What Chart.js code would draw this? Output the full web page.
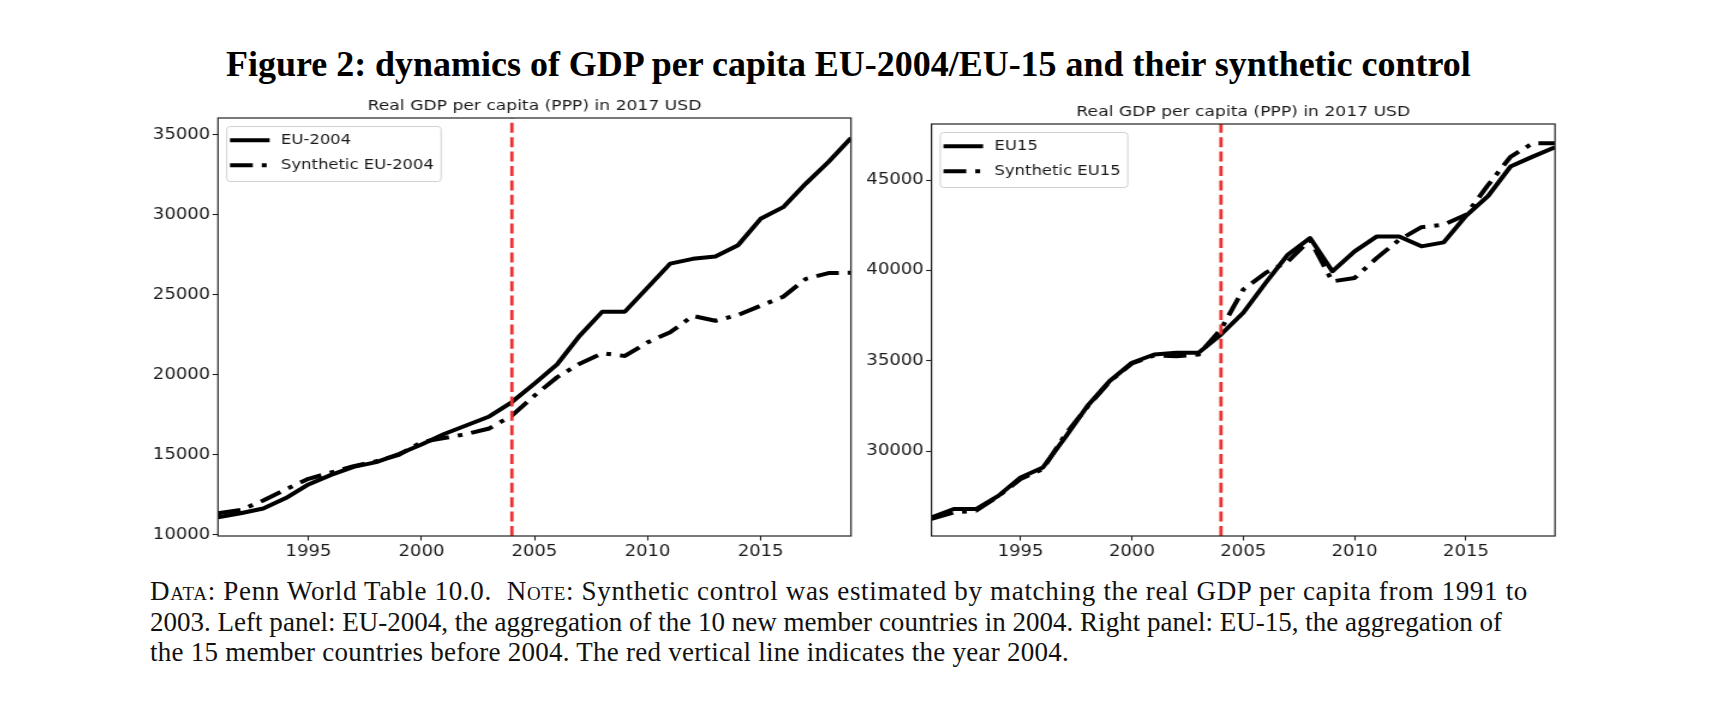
<!DOCTYPE html>
<html>
<head>
<meta charset="utf-8">
<script src="https://cdn.jsdelivr.net/npm/chart.js@4.4.1/dist/chart.umd.min.js"></script>
<style>
html, body { margin: 0; padding: 0; background: #fff; }
body { width: 1728px; height: 724px; position: relative; overflow: hidden; }
.panel { position: absolute; top: 90px; transform-origin: 0 0; transform: scaleX(1.2); }
.panel canvas { display: block; }
#figTitle { position: absolute; left: 226px; top: 47px; font-family: "Liberation Serif", serif; font-weight: bold;
  font-size: 35px; line-height: 35px; white-space: nowrap; color: #000; }
#caption { position: absolute; left: 150px; top: 577px; font-family: "Liberation Serif", serif; font-size: 24px;
  line-height: 30.4px; color: #111; }
#caption .ln { display: inline-block; white-space: nowrap; }
.sc { font-variant: small-caps; }
</style>
</head>
<body>
<div id="figTitle">Figure 2: dynamics of GDP per capita EU-2004/EU-15 and their synthetic control</div>
<div class="panel" style="left:130px"><canvas id="c1" width="617" height="470"></canvas></div>
<div class="panel" style="left:860px"><canvas id="c2" width="596" height="470"></canvas></div>
<div id="caption">
<span class="ln" data-w="1378"><span class="sc">Data</span>: Penn World Table 10.0.&nbsp; <span class="sc">Note</span>: Synthetic control was estimated by matching the real GDP per capita from 1991 to</span><br>
<span class="ln" data-w="1352">2003. Left panel: EU-2004, the aggregation of the 10 new member countries in 2004. Right panel: EU-15, the aggregation of</span><br>
<span class="ln" data-w="919">the 15 member countries before 2004. The red vertical line indicates the year 2004.</span>
</div>
<script>
// ---- data ----
const years = [1991, 1992, 1993, 1994, 1995, 1996, 1997, 1998, 1999, 2000, 2001, 2002, 2003, 2004,
  2005, 2006, 2007, 2008, 2009, 2010, 2011, 2012, 2013, 2014, 2015, 2016, 2017, 2018, 2019];

const eu2004 = [11100, 11350, 11650, 12300, 13150, 13750, 14250, 14550, 15050, 15650, 16300, 16850, 17400, 18300,
  19450, 20650, 22450, 23950, 23950, 25450, 26950, 27250, 27400, 28100, 29750, 30480, 31950, 33300, 34800];
const synthEu2004 = [11350, 11550, 12150, 12850, 13500, 13900, 14300, 14600, 15000, 15800, 16050, 16300, 16650, 17450,
  18700, 19850, 20700, 21350, 21180, 22030, 22660, 23680, 23380, 23740, 24320, 24880, 26000, 26360, 26380];

const eu15 = [26330, 26790, 26790, 27520, 28540, 29090, 30750, 32500, 33880, 34890, 35350, 35450, 35450, 36460,
  37660, 39310, 40880, 41800, 39960, 41060, 41890, 41890, 41340, 41560, 43030, 44140, 45760, 46310, 46830];
const synthEu15 = [26250, 26600, 26700, 27500, 28450, 29000, 30900, 32450, 33850, 34850, 35300, 35250, 35350, 36750,
  38950, 39870, 40500, 41700, 39400, 39590, 40700, 41700, 42400, 42540, 43090, 44750, 46300, 47050, 47050];

const treatmentYear = 2004;
const xTicks = [1995, 2000, 2005, 2010, 2015];
const leftYTicks = [10000, 15000, 20000, 25000, 30000, 35000];
const rightYTicks = [30000, 35000, 40000, 45000];
const leftYRange = [9930, 36050];
const rightYRange = [25295, 48118];
const xRange = [1991, 2019];

const panelTitle = 'Real GDP per capita (PPP) in 2017 USD';
const leftLabels = ['EU-2004', 'Synthetic EU-2004'];
const rightLabels = ['EU15', 'Synthetic EU15'];

// ---- decorations: frame, subplot title, legend ----
const panelDecor = {
  id: 'panelDecor',
  afterDraw(chart, args, opts) {
    const { ctx, chartArea: a } = chart;
    ctx.save();
    ctx.strokeStyle = '#222';
    ctx.lineWidth = 1.2;
    ctx.setLineDash([]);
    ctx.strokeRect(a.left, a.top, a.right - a.left, a.bottom - a.top);

    ctx.fillStyle = '#1a1a1a';
    ctx.font = '14.3px "DejaVu Sans"';
    ctx.textAlign = 'center';
    ctx.textBaseline = 'alphabetic';
    ctx.fillText(opts.title, (a.left + a.right) / 2, a.top - 8.5);

    const items = chart.data.datasets.filter(d => d.inLegend);
    ctx.font = '13.7px "DejaVu Sans"';
    const maxW = Math.max(...items.map(d => ctx.measureText(d.label).width));
    const bx = a.left + 7.3, by = a.top + 8.5, tx = a.left + 52.5;
    const bw = tx + maxW + 6 - bx, bh = 55;
    ctx.beginPath();
    if (ctx.roundRect) ctx.roundRect(bx, by, bw, bh, 3); else ctx.rect(bx, by, bw, bh);
    ctx.fillStyle = 'rgba(255,255,255,0.85)';
    ctx.fill();
    ctx.strokeStyle = '#d0d0d0';
    ctx.lineWidth = 1;
    ctx.stroke();
    items.forEach((d, i) => {
      const cy = a.top + 22.3 + i * 25;
      ctx.beginPath();
      ctx.setLineDash(d.borderDash || []);
      ctx.lineWidth = d.borderWidth;
      ctx.strokeStyle = d.borderColor;
      ctx.lineCap = 'butt';
      ctx.moveTo(a.left + 10, cy);
      ctx.lineTo(a.left + 43, cy);
      ctx.stroke();
      ctx.setLineDash([]);
      ctx.fillStyle = '#1a1a1a';
      ctx.textAlign = 'left';
      ctx.textBaseline = 'middle';
      ctx.fillText(d.label, tx, cy);
    });
    ctx.restore();
  }
};

function makePanel(id, p) {
  const pts = arr => years.map((yr, i) => ({ x: yr, y: arr[i] }));
  const tickFont = { family: 'DejaVu Sans', size: 15 };
  return new Chart(document.getElementById(id), {
    type: 'line',
    data: {
      datasets: [
        { label: 'treatment', inLegend: false, order: 0,
          data: [{ x: treatmentYear, y: p.yRange[0] }, { x: treatmentYear, y: p.yRange[1] }],
          borderColor: '#f03030', borderWidth: 2.8, borderDash: [10, 4.4], pointRadius: 0 },
        { label: p.labels[0], inLegend: true, order: 1, data: pts(p.actual),
          borderColor: '#000', borderWidth: 4, borderJoinStyle: 'round', borderCapStyle: 'butt',
          pointRadius: 0, tension: 0 },
        { label: p.labels[1], inLegend: true, order: 2, data: pts(p.synth),
          borderColor: '#000', borderWidth: 4, borderDash: [19, 7.5, 4, 7.5], borderJoinStyle: 'round',
          borderCapStyle: 'butt', pointRadius: 0, tension: 0 }
      ]
    },
    options: {
      responsive: false,
      animation: false,
      devicePixelRatio: 1,
      layout: { padding: { top: p.padTop, right: p.padRight, left: 0, bottom: 0 } },
      plugins: {
        legend: { display: false },
        tooltip: { enabled: false },
        title: { display: false },
        panelDecor: { title: panelTitle }
      },
      scales: {
        x: {
          type: 'linear', min: xRange[0], max: xRange[1],
          afterBuildTicks: s => { s.ticks = xTicks.map(v => ({ value: v })); },
          afterFit: s => { s.height = 24; },
          grid: { display: true, drawOnChartArea: false, drawTicks: true, tickLength: 4.5, tickColor: '#222', tickWidth: 1.1 },
          border: { display: false },
          ticks: { color: '#1a1a1a', font: tickFont, padding: 3, maxRotation: 0, autoSkip: false,
            callback: v => String(v) }
        },
        y: {
          type: 'linear', min: p.yRange[0], max: p.yRange[1],
          afterBuildTicks: s => { s.ticks = p.yTicks.map(v => ({ value: v })); },
          afterFit: s => { s.width = p.axisW; },
          grid: { display: true, drawOnChartArea: false, drawTicks: true, tickLength: 4.5, tickColor: '#222', tickWidth: 1.1 },
          border: { display: false },
          ticks: { color: '#1a1a1a', font: tickFont, padding: 2, autoSkip: false,
            callback: v => String(v) }
        }
      }
    },
    plugins: [panelDecor]
  });
}

makePanel('c1', { actual: eu2004, synth: synthEu2004, labels: leftLabels, yTicks: leftYTicks,
  yRange: leftYRange, padTop: 28, padRight: 16.17, axisW: 73.33 });
makePanel('c2', { actual: eu15, synth: synthEu15, labels: rightLabels, yTicks: rightYTicks,
  yRange: rightYRange, padTop: 34, padRight: 16.83, axisW: 59.58 });

// fit the HTML text widths to the reference
(function () {
  const t = document.getElementById('figTitle');
  const w = t.getBoundingClientRect().width;
  t.style.fontSize = (35 * 1245 / w) + 'px';

  const cap = document.getElementById('caption');
  const lines = cap.querySelectorAll('.ln');
  const w1 = lines[0].getBoundingClientRect().width;
  const f = Math.min(27, 24 * 1378 / w1);
  cap.style.fontSize = f + 'px';
  cap.style.top = (600.6 - (15.2 + 0.3375 * f)) + 'px';
  lines.forEach(el => {
    const target = +el.dataset.w;
    const cw = el.getBoundingClientRect().width;
    el.style.letterSpacing = ((target - cw) / el.textContent.length) + 'px';
  });
})();
</script>
</body>
</html>
